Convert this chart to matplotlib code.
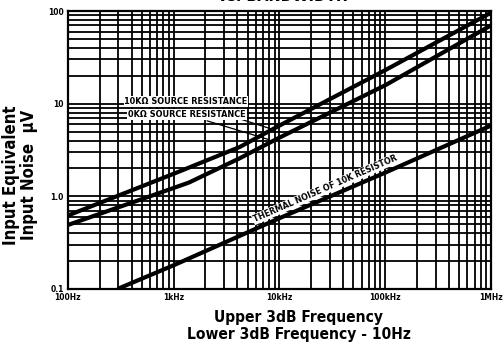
import matplotlib
matplotlib.use("Agg")
import matplotlib.pyplot as plt
from matplotlib.ticker import LogLocator, NullFormatter

# values (frequency in Hz, noise in uV)
freq_10k = [100, 1000, 4200, 10000, 100000, 1000000]
noise_10k = [0.62, 1.75, 3.4, 5.8, 23, 96]

freq_0k = [100, 1000, 1400, 4200, 10000, 100000, 1000000]
noise_0k = [0.49, 1.23, 1.41, 2.57, 4.3, 15.8, 70]

freq_thermal = [295, 1000, 10000, 100000, 1000000]
noise_thermal = [0.1, 0.18, 0.58, 1.8, 5.8]

xticks = [100, 1000, 10000, 100000, 1000000]
xtick_labels = ["100Hz", "1kHz", "10kHz", "100kHz", "1MHz"]
yticks = [0.1, 1, 10, 100]
ytick_labels = ["0.1", "1.0", "10", "100"]

plt.rcParams["font.family"] = ["DejaVu Sans"]
plt.rcParams["font.stretch"] = "condensed"

fig = plt.figure(figsize=(5.03, 3.46), dpi=100)
ax = fig.add_axes([0.135, 0.165, 0.841, 0.803])

ax.set_xscale("log")
ax.set_yscale("log")
ax.set_xlim(100, 1e6)
ax.set_ylim(0.1, 100)

ax.xaxis.set_minor_locator(LogLocator(base=10, subs=range(2, 10)))
ax.yaxis.set_minor_locator(LogLocator(base=10, subs=range(2, 10)))
ax.xaxis.set_minor_formatter(NullFormatter())
ax.yaxis.set_minor_formatter(NullFormatter())
ax.grid(True, which="both", color="black", lw=1.3)
ax.set_axisbelow(True)
for s in ax.spines.values():
    s.set_linewidth(1.6)

ax.set_xticks(xticks)
ax.set_xticklabels(xtick_labels, fontsize=6, fontweight="bold")
ax.set_yticks(yticks)
ax.set_yticklabels(ytick_labels, fontsize=6, fontweight="bold")
ax.tick_params(which="both", length=0, pad=3)

ax.plot(freq_10k, noise_10k, color="black", lw=3, solid_capstyle="butt")
ax.plot(freq_0k, noise_0k, color="black", lw=3, solid_capstyle="butt")
ax.plot(freq_thermal, noise_thermal, color="black", lw=3, solid_capstyle="butt")

box = dict(facecolor="white", edgecolor="none", pad=0.6)
ax.annotate("10K\u03a9 SOURCE RESISTANCE", xy=(9000, 5.2), xytext=(5000, 10.5),
            ha="right", va="center", fontsize=6.5, fontweight="bold", bbox=box,
            arrowprops=dict(arrowstyle="-", color="black", lw=0.9))
ax.annotate("0K\u03a9 SOURCE RESISTANCE", xy=(8500, 4.0), xytext=(4800, 7.6),
            ha="right", va="center", fontsize=6.5, fontweight="bold", bbox=box,
            arrowprops=dict(arrowstyle="-", color="black", lw=0.9))
ax.text(27000, 1.2, "THERMAL NOISE OF 10K RESISTOR", rotation=23.5,
        rotation_mode="anchor", ha="center", va="center", fontsize=6.4,
        fontweight="bold", bbox=box)

ax.set_ylabel("Input Equivalent\nInput Noise  \u00b5V", fontsize=12,
              fontweight="bold", linespacing=1.0)
ax.yaxis.set_label_coords(-0.07, 0.41)
ax.set_xlabel("Upper 3dB Frequency\nLower 3dB Frequency - 10Hz", fontsize=11.2,
              fontweight="bold", linespacing=1.15)
ax.xaxis.set_label_coords(0.545, -0.075)
ax.xaxis.label.set_va("top")

fig.text(0.563, 1.01, "vs. BANDWIDTH", ha="center", va="center",
         fontsize=11.5, fontweight="bold")

fig.savefig("out.png", dpi=100)
